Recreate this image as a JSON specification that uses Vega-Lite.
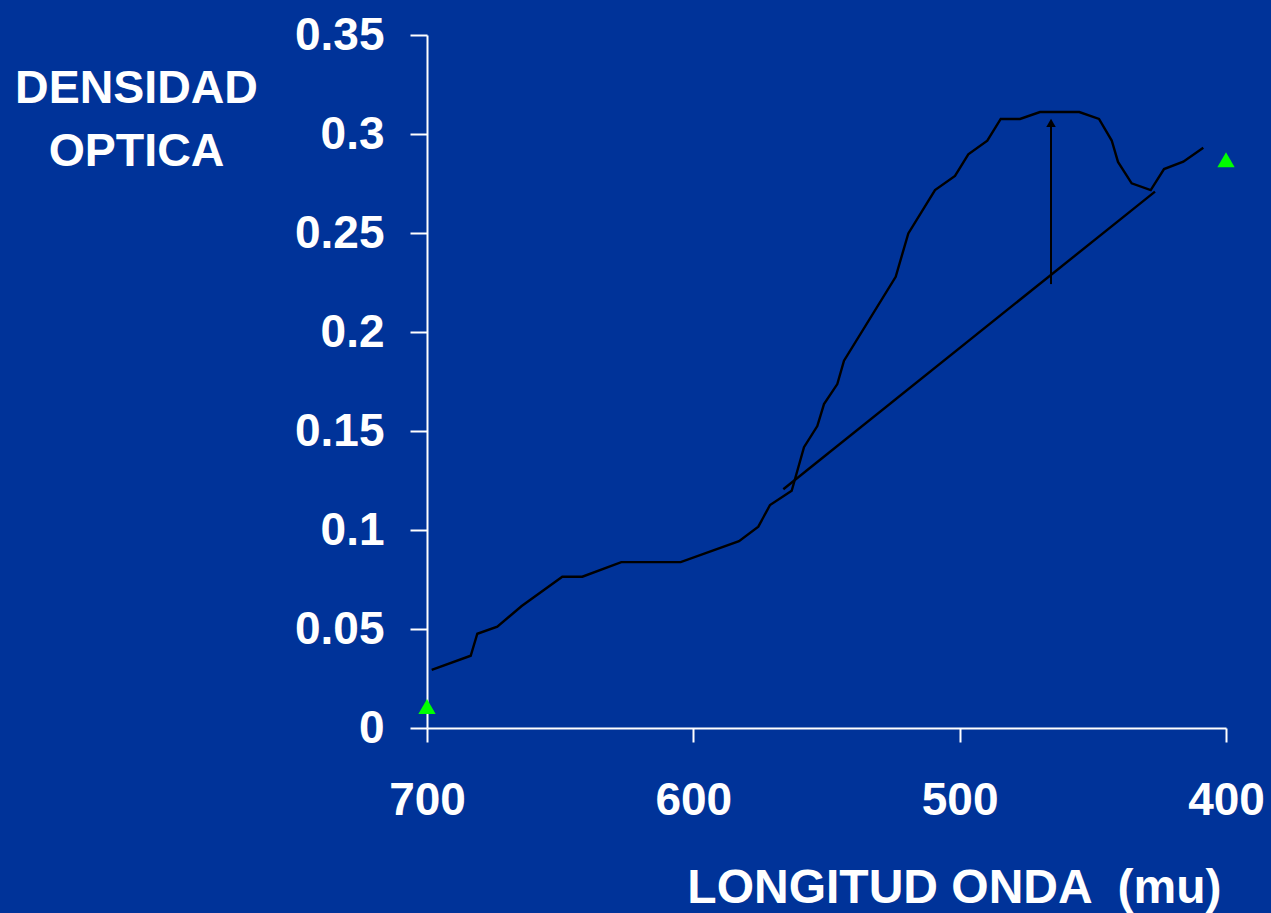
{
  "$schema": "https://vega.github.io/schema/vega-lite/v6.json",
  "width": 799,
  "height": 693,
  "autosize": {"type": "none"},
  "padding": {"left": 427, "top": 35, "right": 45, "bottom": 185},
  "background": "#003399",
  "config": {"view": {"stroke": null}, "font": "Liberation Sans"},
  "datasets": {
    "curve": [
      {"wl": 698.24, "od": 0.0293},
      {"wl": 683.59, "od": 0.0365},
      {"wl": 681.11, "od": 0.0476},
      {"wl": 673.60, "od": 0.0512},
      {"wl": 664.44, "od": 0.0616},
      {"wl": 649.20, "od": 0.0764},
      {"wl": 641.69, "od": 0.0764},
      {"wl": 627.05, "od": 0.0838},
      {"wl": 604.74, "od": 0.0838},
      {"wl": 582.85, "od": 0.0944},
      {"wl": 575.60, "od": 0.1017},
      {"wl": 571.21, "od": 0.1126},
      {"wl": 563.07, "od": 0.1198},
      {"wl": 558.45, "od": 0.1418},
      {"wl": 553.45, "od": 0.1525},
      {"wl": 550.94, "od": 0.1636},
      {"wl": 545.94, "od": 0.1737},
      {"wl": 543.43, "od": 0.1855},
      {"wl": 524.02, "od": 0.2279},
      {"wl": 519.28, "od": 0.2498},
      {"wl": 509.26, "od": 0.2717},
      {"wl": 501.75, "od": 0.2788},
      {"wl": 496.76, "od": 0.2897},
      {"wl": 489.62, "od": 0.2966},
      {"wl": 484.59, "od": 0.3076},
      {"wl": 477.34, "od": 0.3076},
      {"wl": 469.84, "od": 0.3111},
      {"wl": 455.08, "od": 0.3111},
      {"wl": 447.68, "od": 0.3076},
      {"wl": 442.91, "od": 0.2967},
      {"wl": 440.55, "od": 0.2859},
      {"wl": 435.42, "od": 0.2751},
      {"wl": 428.27, "od": 0.2717},
      {"wl": 423.27, "od": 0.2823},
      {"wl": 416.03, "od": 0.2860},
      {"wl": 408.52, "od": 0.2931}
    ],
    "baseline": [
      {"wl": 566.22, "od": 0.1206},
      {"wl": 426.66, "od": 0.2709}
    ],
    "markers": [
      {"wl": 700, "od": 0.0109},
      {"wl": 400, "od": 0.287}
    ],
    "arrow": [
      {"wl": 465.7, "od": 0.2242, "od2": 0.3040}
    ],
    "head": [
      {"wl": 465.7, "od": 0.3056}
    ]
  },
  "encoding": {
    "x": {
      "field": "wl",
      "type": "quantitative",
      "scale": {"domain": [400, 700], "reverse": true, "nice": false, "zero": false},
      "axis": {
        "values": [700, 600, 500, 400],
        "grid": false,
        "domainColor": "white",
        "domainWidth": 2,
        "tickColor": "white",
        "tickWidth": 2,
        "tickSize": 14,
        "labelColor": "white",
        "labelFont": "Liberation Sans",
        "labelFontSize": 46,
        "labelFontWeight": "bold",
        "labelPadding": 36,
        "labelFlush": false,
        "labelOverlap": false,
        "title": "LONGITUD ONDA \u00a0(mu)",
        "titleColor": "white",
        "titleFont": "Liberation Sans",
        "titleFontSize": 48,
        "titleFontWeight": "bold",
        "titleAlign": "right",
        "titleAnchor": null,
        "titleX": 794,
        "titleY": 174,
        "titleBaseline": "alphabetic"
      }
    },
    "y": {
      "field": "od",
      "type": "quantitative",
      "scale": {"domain": [0, 0.35], "nice": false},
      "axis": {
        "values": [0, 0.05, 0.1, 0.15, 0.2, 0.25, 0.3, 0.35],
        "format": ".2~f",
        "grid": false,
        "domainColor": "white",
        "domainWidth": 2,
        "tickColor": "white",
        "tickWidth": 2,
        "tickSize": 17,
        "labelColor": "white",
        "labelFont": "Liberation Sans",
        "labelFontSize": 46,
        "labelFontWeight": "bold",
        "labelPadding": 26,
        "labelFlush": false,
        "labelOverlap": false,
        "title": ["DENSIDAD", "OPTICA"],
        "titleColor": "white",
        "titleFont": "Liberation Sans",
        "titleFontSize": 46.5,
        "titleFontWeight": "bold",
        "titleAngle": 0,
        "titleAlign": "center",
        "titleAnchor": null,
        "titleX": -291,
        "titleY": 67,
        "titleBaseline": "alphabetic",
        "titleLineHeight": 63
      }
    }
  },
  "layer": [
    {
      "data": {"name": "curve"},
      "mark": {"type": "line", "color": "black", "strokeWidth": 2.4}
    },
    {
      "data": {"name": "baseline"},
      "mark": {"type": "line", "color": "black", "strokeWidth": 2.4}
    },
    {
      "data": {"name": "arrow"},
      "mark": {"type": "rule", "color": "black", "strokeWidth": 2},
      "encoding": {"y2": {"field": "od2"}}
    },
    {
      "data": {"name": "head"},
      "mark": {"type": "point", "shape": "triangle-up", "filled": true, "color": "black", "opacity": 1, "size": 90}
    },
    {
      "data": {"name": "markers"},
      "mark": {"type": "point", "shape": "triangle-up", "filled": true, "color": "#00ff00", "opacity": 1, "size": 300, "clip": false}
    }
  ]
}
